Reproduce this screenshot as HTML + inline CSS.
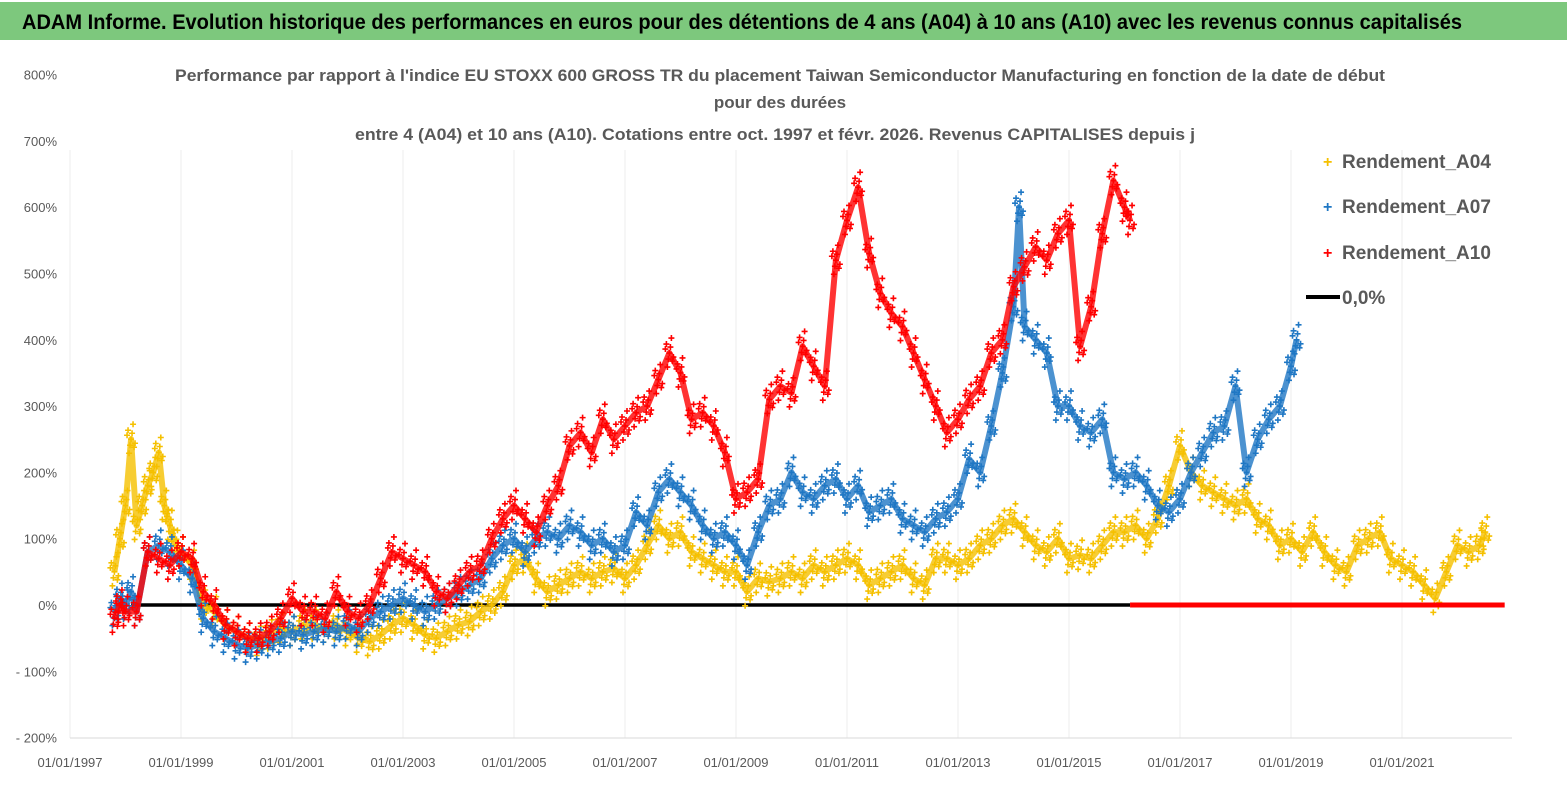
<!DOCTYPE html>
<html><head><meta charset="utf-8"><style>
body{margin:0;background:#fff;}
svg{display:block;font-family:"Liberation Sans",sans-serif;}
</style></head><body>
<svg id="chart" width="1567" height="790" viewBox="0 0 1567 790" xmlns="http://www.w3.org/2000/svg">
<rect x="0" y="0" width="1567" height="790" fill="#fff"/>
<rect x="0" y="2" width="1567" height="38" fill="#7dc87d"/>
<text x="22" y="29" font-size="21" font-weight="bold" fill="#000" textLength="1440" lengthAdjust="spacingAndGlyphs">ADAM Informe. Evolution historique des performances en euros pour des détentions de 4 ans (A04) à 10 ans (A10) avec les revenus connus capitalisés</text>
<g fill="#595959" font-weight="bold" font-size="17" text-anchor="middle">
<text x="780" y="81" textLength="1210" lengthAdjust="spacingAndGlyphs">Performance par rapport à l'indice EU STOXX 600 GROSS TR  du placement Taiwan Semiconductor Manufacturing en fonction de la date de début</text>
<text x="780" y="108">pour des durées</text>
<text x="775" y="140" textLength="840" lengthAdjust="spacingAndGlyphs">entre 4 (A04) et 10 ans (A10). Cotations entre oct. 1997 et févr. 2026. Revenus CAPITALISES depuis j</text>
</g>
<g id="grid"></g><g id="axes"></g><g id="series"></g>
<g font-size="19" font-weight="bold" fill="#595959">
<text x="1323" y="167" fill="#f5c000" font-size="16">+</text><text x="1342" y="168">Rendement_A04</text>
<text x="1323" y="212" fill="#1f77c4" font-size="16">+</text><text x="1342" y="213">Rendement_A07</text>
<text x="1323" y="258" fill="#ff0000" font-size="16">+</text><text x="1342" y="259">Rendement_A10</text>
<line x1="1306" y1="297" x2="1340" y2="297" stroke="#000" stroke-width="4"/><text x="1342" y="304">0,0%</text>
</g>
</svg>
<script>
const yTicks=[800,700,600,500,400,300,200,100,0,-100,-200];
const yTickLabels=["800%","700%","600%","500%","400%","300%","200%","100%","0%","- 100%","- 200%"];
const xTicks=[1997,1999,2001,2003,2005,2007,2009,2011,2013,2015,2017,2019,2021];
const xTickLabels=["01/01/1997","01/01/1999","01/01/2001","01/01/2003","01/01/2005","01/01/2007","01/01/2009","01/01/2011","01/01/2013","01/01/2015","01/01/2017","01/01/2019","01/01/2021"];
const a04T=[1997.8,1997.9,1998.0,1998.1,1998.2,1998.3,1998.4,1998.5,1998.6,1998.7,1998.8,1998.9,1999.0,1999.2,1999.4,1999.6,1999.8,2000.0,2000.2,2000.4,2000.6,2000.8,2001.0,2001.2,2001.4,2001.6,2001.8,2002.0,2002.2,2002.4,2002.6,2002.8,2003.0,2003.2,2003.4,2003.6,2003.8,2004.0,2004.2,2004.4,2004.6,2004.8,2005.0,2005.2,2005.4,2005.6,2005.8,2006.0,2006.2,2006.4,2006.6,2006.8,2007.0,2007.2,2007.4,2007.6,2007.8,2008.0,2008.2,2008.4,2008.6,2008.8,2009.0,2009.2,2009.4,2009.6,2009.8,2010.0,2010.2,2010.4,2010.6,2010.8,2011.0,2011.2,2011.4,2011.6,2011.8,2012.0,2012.2,2012.4,2012.6,2012.8,2013.0,2013.2,2013.4,2013.6,2013.8,2014.0,2014.2,2014.4,2014.6,2014.8,2015.0,2015.2,2015.4,2015.6,2015.8,2016.0,2016.2,2016.4,2016.6,2016.8,2017.0,2017.2,2017.4,2017.6,2017.8,2018.0,2018.2,2018.4,2018.6,2018.8,2019.0,2019.2,2019.4,2019.6,2019.8,2020.0,2020.2,2020.4,2020.6,2020.8,2021.0,2021.2,2021.4,2021.6,2021.8,2022.0,2022.2,2022.4,2022.5];
const a04V=[50,100,150,250,120,150,180,200,230,150,120,90,80,60,0,-10,-30,-40,-50,-55,-45,-35,-40,-30,-30,-35,-30,-40,-50,-55,-45,-30,-20,-30,-45,-50,-40,-30,-25,-10,0,20,60,70,40,20,30,40,50,40,50,55,40,60,90,120,100,110,80,70,60,50,50,20,40,35,40,50,40,60,50,60,70,60,30,40,50,60,40,30,70,70,60,70,90,100,120,130,110,90,80,100,70,75,70,90,110,110,120,100,130,180,240,200,180,170,160,150,160,130,120,90,100,80,110,80,60,50,90,100,110,70,60,50,30,10,50,90,80,90,110];
const a07T=[1997.8,1997.9,1998.0,1998.1,1998.2,1998.4,1998.6,1998.8,1999.0,1999.2,1999.4,1999.6,1999.8,2000.0,2000.2,2000.4,2000.6,2000.8,2001.0,2001.2,2001.4,2001.6,2001.8,2002.0,2002.2,2002.4,2002.6,2002.8,2003.0,2003.2,2003.4,2003.6,2003.8,2004.0,2004.2,2004.4,2004.6,2004.8,2005.0,2005.2,2005.4,2005.6,2005.8,2006.0,2006.2,2006.4,2006.6,2006.8,2007.0,2007.2,2007.4,2007.6,2007.8,2008.0,2008.2,2008.4,2008.6,2008.8,2009.0,2009.2,2009.4,2009.6,2009.8,2010.0,2010.2,2010.4,2010.6,2010.8,2011.0,2011.2,2011.4,2011.6,2011.8,2012.0,2012.2,2012.4,2012.6,2012.8,2013.0,2013.2,2013.4,2013.6,2013.8,2014.0,2014.1,2014.2,2014.4,2014.6,2014.8,2015.0,2015.2,2015.4,2015.6,2015.8,2016.0,2016.2,2016.4,2016.6,2016.8,2017.0,2017.2,2017.4,2017.6,2017.8,2018.0,2018.2,2018.4,2018.6,2018.8,2019.0,2019.1];
const a07V=[-10,10,0,20,-10,80,90,80,60,40,-20,-40,-50,-60,-65,-60,-55,-50,-40,-45,-40,-35,-40,-30,-40,-20,-10,0,10,0,-10,0,10,20,30,40,70,90,100,80,100,110,100,120,110,90,100,80,90,140,120,170,190,170,150,120,100,110,90,60,110,150,160,200,170,160,180,190,160,180,140,150,160,130,120,110,130,140,160,220,200,270,350,450,600,420,400,380,300,300,270,260,280,200,190,200,180,150,140,160,200,230,260,270,330,200,250,280,300,360,400];
const a10T=[1997.8,1997.9,1998.0,1998.2,1998.4,1998.6,1998.8,1999.0,1999.2,1999.4,1999.6,1999.8,2000.0,2000.2,2000.4,2000.6,2000.8,2001.0,2001.2,2001.4,2001.6,2001.8,2002.0,2002.2,2002.4,2002.6,2002.8,2003.0,2003.2,2003.4,2003.6,2003.8,2004.0,2004.2,2004.4,2004.6,2004.8,2005.0,2005.2,2005.4,2005.6,2005.8,2006.0,2006.2,2006.4,2006.6,2006.8,2007.0,2007.2,2007.4,2007.6,2007.8,2008.0,2008.2,2008.4,2008.6,2008.8,2009.0,2009.2,2009.4,2009.6,2009.8,2010.0,2010.2,2010.4,2010.6,2010.8,2011.0,2011.2,2011.4,2011.6,2011.8,2012.0,2012.2,2012.4,2012.6,2012.8,2013.0,2013.2,2013.4,2013.6,2013.8,2014.0,2014.2,2014.4,2014.6,2014.8,2015.0,2015.2,2015.4,2015.6,2015.8,2016.0,2016.1];
const a10V=[-20,0,-10,-10,80,70,60,80,70,20,0,-30,-40,-50,-50,-40,-20,10,-10,-10,-20,20,-10,-20,0,40,80,70,60,50,20,10,30,50,60,100,130,150,130,110,150,180,240,260,230,280,250,270,290,300,340,380,350,280,290,270,230,160,170,190,310,330,320,390,360,330,520,580,630,530,470,440,420,380,340,300,260,280,310,330,380,400,480,510,540,520,560,580,390,450,560,640,600,580];
const zeroBlack=[1998.1,2016.1];
const zeroRed=[2016.1,2022.85];

const NS="http://www.w3.org/2000/svg";
const X=t=>70+(t-1997)*55.5;
const Y=v=>605-v*0.663;
function mk(tag,attrs,parent){const e=document.createElementNS(NS,tag);for(const k in attrs)e.setAttribute(k,attrs[k]);parent.appendChild(e);return e;}
const grid=document.getElementById('grid'),axes=document.getElementById('axes'),ser=document.getElementById('series');
yTicks.forEach((v,i)=>{
 const t=mk('text',{x:57,y:Y(v)+5,'font-size':13,fill:'#595959','text-anchor':'end'},axes);
 
 
 t.textContent=yTickLabels[i];
});
xTicks.forEach((v,i)=>{
 const l=mk('line',{x1:X(v),y1:150,x2:X(v),y2:738,stroke:'#eeeeee','stroke-width':1},grid);
 
 
 const t=mk('text',{x:X(v),y:767,'font-size':13,fill:'#595959','text-anchor':'middle'},axes);
 
 
 t.textContent=xTickLabels[i];
});
const ax=mk('line',{x1:70,y1:738,x2:1512,y2:738,stroke:'#d9d9d9','stroke-width':1},axes);


const zb=mk('line',{x1:X(zeroBlack[0]),y1:Y(0),x2:X(zeroBlack[1]),y2:Y(0),stroke:'#000','stroke-width':3.5},ser);


const offs=[[0,0],[-3,-9],[3,8],[-2,14],[2,-15],[4,4],[-4,-4],[1,-6],[-1,6]];
function series(T,V,color,name){
 const g=mk('g',{},ser);
 
 
 const pts=T.map((t,i)=>X(t)+','+Y(V[i])).join(' ');
 mk('polyline',{points:pts,fill:'none',stroke:color,'stroke-width':6,'stroke-opacity':0.8,'stroke-linejoin':'round'},g);
 T.forEach((t,i)=>{
  offs.forEach(o=>{
   const x=X(t)+o[0],y=Y(V[i])+o[1];
   const p=mk('path',{d:`M${x-3} ${y}h6M${x} ${y-3}v6`,stroke:color,'stroke-width':1.6},g);
   
   
  });
 });
}
series(a04T,a04V,'#f5c000','series-a04');
series(a07T,a07V,'#1f77c4','series-a07');
series(a10T,a10V,'#ff0000','series-a10');
const zr=mk('line',{x1:X(zeroRed[0]),y1:Y(0),x2:X(zeroRed[1]),y2:Y(0),stroke:'#ff0000','stroke-width':5},ser);


</script>
</body></html>
